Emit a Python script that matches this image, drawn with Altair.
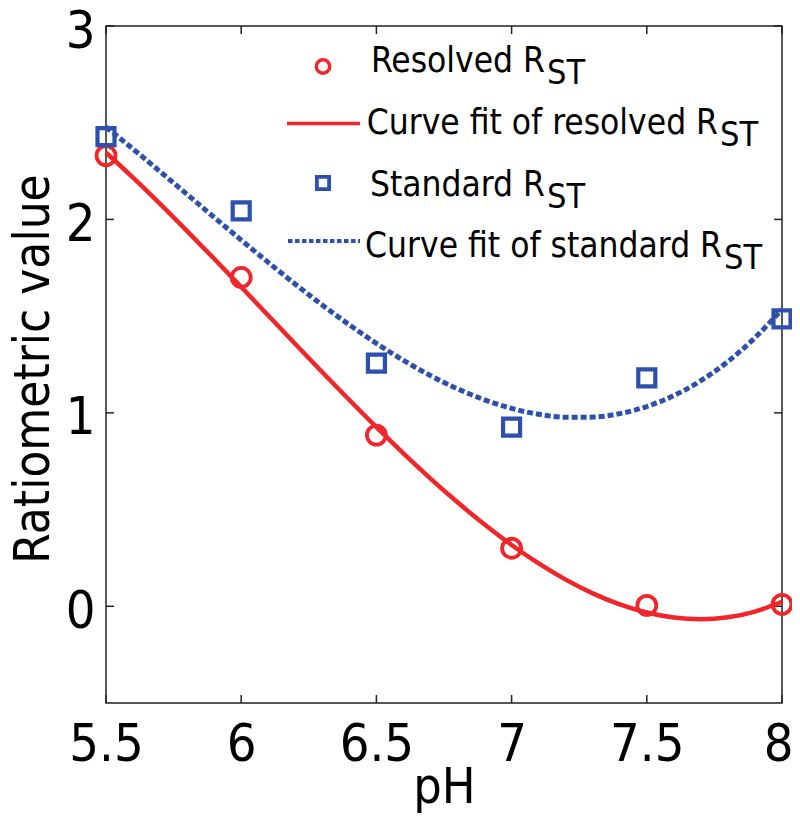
import altair as alt
import pandas as pd

# ---- data ----
ph_points = [5.5, 6.0, 6.5, 7.0, 7.5, 8.0]
resolved_rst = [2.33, 1.70, 0.885, 0.30, 0.005, 0.01]
standard_rst = [2.428, 2.044, 1.257, 0.926, 1.181, 1.486]

ph_curve = [5.5, 5.6, 5.7, 5.8, 5.9, 6.0, 6.1, 6.2, 6.3, 6.4, 6.5, 6.6, 6.7,
            6.8, 6.9, 7.0, 7.1, 7.2, 7.3, 7.4, 7.5, 7.6, 7.7, 7.8, 7.9, 8.0]
resolved_fit = [2.3457, 2.2160, 2.0804, 1.9398, 1.7966, 1.6506, 1.5034, 1.3562,
                1.2101, 1.0664, 0.9260, 0.7904, 0.6604, 0.5374, 0.4225, 0.3169,
                0.2216, 0.1379, 0.0669, 0.0098, -0.0323, -0.0582, -0.0667,
                -0.0568, -0.0272, 0.0233]
standard_fit = [2.4781, 2.3641, 2.2475, 2.1294, 2.0109, 1.8933, 1.7777, 1.6653,
                1.5573, 1.4550, 1.3592, 1.2714, 1.1927, 1.1243, 1.0674, 1.0232,
                0.9927, 0.9773, 0.9780, 0.9961, 1.0328, 1.0892, 1.1665, 1.2658,
                1.3885, 1.5355]

x_ticks = [5.5, 6, 6.5, 7, 7.5, 8]
y_ticks = [0, 1, 2, 3]

legend_main = ["Resolved R", "Curve fit of resolved R", "Standard R", "Curve fit of standard R"]
legend_sub = ["ST", "ST", "ST", "ST"]

RED = "#f0262b"
BLUE = "#2d50ac"
FRAME = "#222222"
FONT = "DejaVu Sans Condensed, Liberation Sans Narrow, DejaVu Sans"
W, H = 676, 677
TICK = 8

pts = pd.DataFrame({"pH": ph_points, "resolved": resolved_rst, "standard": standard_rst})
curve = pd.DataFrame({"pH": ph_curve, "resolved": resolved_fit, "standard": standard_fit})
xt = pd.DataFrame({"v": x_ticks})
yt = pd.DataFrame({"v": y_ticks})

xscale = alt.Scale(domain=[5.5, 8], nice=False, zero=False)
yscale = alt.Scale(domain=[-0.5, 3], nice=False, zero=False)

x_bottom = alt.Axis(orient="bottom", values=x_ticks, format=".1~f", labelFont=FONT,
                    labelFontSize=52, labelPadding=16, labelColor="black",
                    labelOffset=alt.ExprRef(expr="datum.value == 8 ? -4 : 0"),
                    labelFlush=False, labelOverlap=False, labelBound=False,
                    ticks=False, tickSize=0, domain=False, grid=False,
                    title="pH", titleFont=FONT, titleFontSize=50, titleFontWeight="normal",
                    titleColor="black", titleX=W / 2, titleY=99, titleBaseline="alphabetic",
                    titleAlign="center")
y_left = alt.Axis(orient="left", values=y_ticks, format="d", labelFont=FONT,
                  labelFontSize=52, labelPadding=11, labelColor="black", labelOffset=5,
                  labelFlush=False, labelOverlap=False, labelBound=False,
                  ticks=False, tickSize=0, domain=False, grid=False,
                  title="Ratiometric value", titleFont=FONT, titleFontSize=49,
                  titleFontWeight="normal", titleColor="black", titleAngle=270,
                  titleX=-58, titleY=H / 2 + 4, titleBaseline="alphabetic",
                  titleAlign="center")

red_line = alt.Chart(curve).mark_line(color=RED, strokeWidth=4.5, interpolate="monotone").encode(
    x=alt.X("pH:Q", scale=xscale, axis=x_bottom),
    y=alt.Y("resolved:Q", scale=yscale, axis=y_left),
)
blue_line = alt.Chart(curve).mark_line(color=BLUE, strokeWidth=5, strokeDash=[6, 3],
                                       interpolate="monotone").encode(
    x=alt.X("pH:Q", scale=xscale),
    y=alt.Y("standard:Q", scale=yscale),
)
red_pts = alt.Chart(pts).mark_point(shape="circle", filled=False, color=RED, strokeWidth=3.8,
                                    size=361, opacity=1).encode(
    x=alt.X("pH:Q", scale=xscale),
    y=alt.Y("resolved:Q", scale=yscale),
)
blue_pts = alt.Chart(pts).mark_point(shape="square", filled=False, color=BLUE, strokeWidth=4.2,
                                     size=289, opacity=1).encode(
    x=alt.X("pH:Q", scale=xscale),
    y=alt.Y("standard:Q", scale=yscale),
)

# ---- inward ticks on all four sides ----
tick_bottom = alt.Chart(xt).mark_rule(color=FRAME, strokeWidth=1.5).encode(
    x=alt.X("v:Q", scale=xscale), y=alt.value(H), y2=alt.value(H - TICK))
tick_top = alt.Chart(xt).mark_rule(color=FRAME, strokeWidth=1.5).encode(
    x=alt.X("v:Q", scale=xscale), y=alt.value(0), y2=alt.value(TICK))
tick_left = alt.Chart(yt).mark_rule(color=FRAME, strokeWidth=1.5).encode(
    y=alt.Y("v:Q", scale=yscale), x=alt.value(0), x2=alt.value(TICK))
tick_right = alt.Chart(yt).mark_rule(color=FRAME, strokeWidth=1.5).encode(
    y=alt.Y("v:Q", scale=yscale), x=alt.value(W), x2=alt.value(W - TICK))

# ---- legend (drawn inside the plot, top right) ----
leg_base = [46, 107.5, 169.5, 231]
leg_end = [439, 612, 439, 616]
layers = []
for i in range(4):
    layers.append(
        alt.Chart(pd.DataFrame({"t": [legend_main[i]]})).mark_text(
            align="right", baseline="alphabetic", font=FONT, fontSize=35, color="black"
        ).encode(x=alt.value(leg_end[i]), y=alt.value(leg_base[i]), text="t:N")
    )
    layers.append(
        alt.Chart(pd.DataFrame({"t": [legend_sub[i]]})).mark_text(
            align="left", baseline="alphabetic", font=FONT, fontSize=34, color="black"
        ).encode(x=alt.value(leg_end[i] + 2), y=alt.value(leg_base[i] + 12), text="t:N")
    )

leg_circle = alt.Chart(pd.DataFrame({"k": ["resolved"]})).mark_point(
    shape="circle", filled=False, color=RED, strokeWidth=3.5, size=180, opacity=1
).encode(x=alt.value(217), y=alt.value(40.5))
leg_square = alt.Chart(pd.DataFrame({"k": ["standard"]})).mark_point(
    shape="square", filled=False, color=BLUE, strokeWidth=3.8, size=150, opacity=1
).encode(x=alt.value(217), y=alt.value(157))
leg_red = alt.Chart(pd.DataFrame({"k": ["fit"]})).mark_rule(color=RED, strokeWidth=3.5).encode(
    x=alt.value(181), x2=alt.value(254), y=alt.value(97.5))
leg_blue = alt.Chart(pd.DataFrame({"k": ["fit"]})).mark_rule(
    color=BLUE, strokeWidth=4, strokeDash=[4.5, 2.5]).encode(
    x=alt.value(182), x2=alt.value(254), y=alt.value(215))

chart = alt.layer(
    tick_bottom, tick_top, tick_left, tick_right,
    red_line, blue_line, red_pts, blue_pts,
    leg_circle, leg_red, leg_square, leg_blue, *layers
).properties(
    width=W, height=H,
    autosize=alt.AutoSizeParams(type="none"),
    padding={"left": 98, "top": 18, "right": 10, "bottom": 110},
).configure_view(stroke=FRAME, strokeWidth=1.5)

chart.save("out.html", embed_options={"renderer": "svg", "actions": False})
